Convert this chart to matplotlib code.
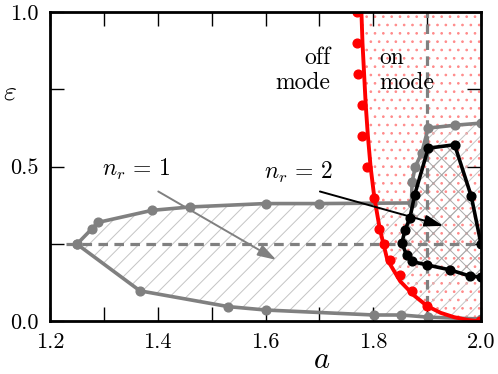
import matplotlib
matplotlib.use("Agg")
import matplotlib.pyplot as plt
import numpy as np

plt.rcParams['font.family'] = 'serif'
plt.rcParams['font.serif'] = ['cmr10']
plt.rcParams['mathtext.fontset'] = 'cm'
plt.rcParams['axes.formatter.use_mathtext'] = True
plt.rcParams['hatch.linewidth'] = 0.7

# n_r = 1 boundary (grey)
up_a = [1.25, 1.278, 1.289, 1.389, 1.46, 1.60, 1.70, 1.871, 1.872, 1.878, 1.89, 1.902, 1.951, 2.0]
up_eps = [0.25, 0.30, 0.32, 0.359, 0.37, 0.381, 0.381, 0.383, 0.45, 0.50, 0.545, 0.625, 0.634, 0.641]
lo_a = [1.25, 1.367, 1.531, 1.601, 1.801, 1.852, 1.902, 2.0]
lo_eps = [0.25, 0.099, 0.048, 0.037, 0.021, 0.021, 0.014, 0.008]

# n_r = 2 boundary (black)
blk_a = [2.0, 1.979, 1.942, 1.899, 1.871, 1.862, 1.853, 1.859, 1.868, 1.877, 1.902, 1.951, 1.982, 2.0]
blk_eps = [0.143, 0.147, 0.167, 0.183, 0.194, 0.215, 0.253, 0.296, 0.334, 0.41, 0.56, 0.571, 0.404, 0.25]

# on/off mode boundary (red): fitted curve and computed points
red_a = [1.778, 1.780, 1.783, 1.786, 1.790, 1.795, 1.802, 1.812, 1.826, 1.850, 1.875, 1.900, 1.925, 1.950, 1.975, 2.0]
red_eps = [1.0, 0.9, 0.8, 0.7, 0.6, 0.5, 0.4, 0.3, 0.2, 0.13, 0.085, 0.05, 0.028, 0.014, 0.005, 0.0]
red_pt_a = [1.769, 1.770, 1.771, 1.780, 1.780, 1.788, 1.801, 1.810, 1.820, 1.831, 1.849, 1.871, 1.900, 1.998]
red_pt_eps = [1.0, 0.9, 0.8, 0.7, 0.6, 0.5, 0.4, 0.3, 0.25, 0.2, 0.15, 0.1, 0.05, 0.0]

hline_eps = 0.25
hline_a0 = 1.23
vline_a = 1.9

grey = '#808080'

fig = plt.figure(figsize=(4.98, 3.74), dpi=100)
fig.patch.set_facecolor('white')
ax = fig.add_axes([0.1004, 0.1404, 0.8655, 0.8276])

# shaded regions
ax.fill_betweenx(red_eps, red_a, 2.0, facecolor='none', edgecolor='#ff8a8a',
                 hatch='..', linewidth=0, zorder=1)
reg1_a = up_a + lo_a[::-1]
reg1_eps = up_eps + lo_eps[::-1]
ax.fill(reg1_a, reg1_eps, facecolor='none', edgecolor='#c4c4c4', hatch='//',
        linewidth=0, zorder=1)
ax.fill(blk_a, blk_eps, facecolor='none', edgecolor='#a8a8a8', hatch='xx',
        linewidth=0, zorder=1)

# dashed reference lines
ax.plot([hline_a0, 2.0], [hline_eps, hline_eps], color=grey, lw=2.3,
        linestyle=(0, (3, 2)), zorder=2)
ax.plot([vline_a, vline_a], [0, 1], color=grey, lw=2.3,
        linestyle=(0, (3, 2)), zorder=2)

# curves
ax.plot(up_a, up_eps, color=grey, lw=2.6, marker='o', ms=6.3, zorder=3)
ax.plot(lo_a, lo_eps, color=grey, lw=2.6, marker='o', ms=6.3, zorder=3)
ax.plot(blk_a, blk_eps, color='black', lw=2.6, marker='o', ms=6.3, zorder=4)
ax.plot(red_pt_a, red_pt_eps, linestyle='none', color='red', marker='o', ms=6.3, zorder=5)
ax.plot(red_a, red_eps, color='red', lw=2.8, zorder=5)

# labels and arrows
ax.text(1.361, 0.49, r'$n_r \,=\, 1$', fontsize=17, ha='center', va='center')
ax.text(1.662, 0.48, r'$n_r \,=\, 2$', fontsize=17, ha='center', va='center')
ax.text(1.72, 0.81, 'off\nmode', fontsize=17, ha='right', va='center', linespacing=1.15)
ax.text(1.811, 0.81, 'on\nmode', fontsize=17, ha='left', va='center', linespacing=1.15)
ax.annotate('', xy=(1.62, 0.199), xytext=(1.401, 0.42),
            arrowprops=dict(arrowstyle='-|>,head_length=0.8,head_width=0.25',
                            color=grey, lw=1.4, mutation_scale=14, shrinkA=0, shrinkB=0),
            zorder=6)
ax.annotate('', xy=(1.93, 0.309), xytext=(1.701, 0.42),
            arrowprops=dict(arrowstyle='-|>,head_length=0.8,head_width=0.25',
                            color='black', lw=1.4, mutation_scale=14, shrinkA=0, shrinkB=0),
            zorder=6)

ax.set_xlim(1.2, 2.0)
ax.set_ylim(0.0, 1.0)
ax.set_xticks([1.2, 1.4, 1.6, 1.8, 2.0])
ax.set_xticks(np.arange(1.3, 2.0, 0.2), minor=True)
ax.set_yticks([0.0, 0.5, 1.0])
ax.set_yticks([0.25, 0.75], minor=True)
ax.xaxis.set_major_formatter(plt.FormatStrFormatter('%.1f'))
ax.yaxis.set_major_formatter(plt.FormatStrFormatter('%.1f'))
ax.tick_params(which='both', direction='in', top=True, right=True, length=10, width=1,
               labelsize=16)
ax.tick_params(axis='x', pad=8)
ax.tick_params(axis='y', pad=8)
for s in ax.spines.values():
    s.set_linewidth(2)
    s.set_zorder(10)

ax.set_xlabel(r'$a$', fontsize=22)
ax.xaxis.set_label_coords(0.63, -0.08)
ax.set_ylabel(r'$\varepsilon$', fontsize=20, rotation=0, ha='center', va='center')
ax.yaxis.set_label_coords(-0.093, 0.74)

fig.savefig('out.png', dpi=100)
